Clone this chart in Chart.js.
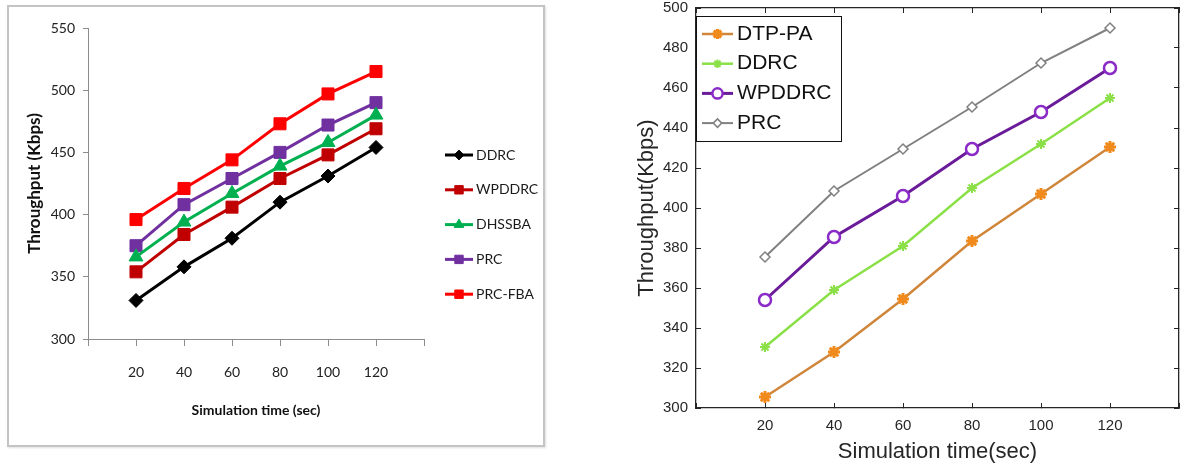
<!DOCTYPE html>
<html><head><meta charset="utf-8">
<script src="https://cdn.jsdelivr.net/npm/chart.js@4.4.1/dist/chart.umd.min.js"></script>
<style>
html,body{margin:0;padding:0;background:#fff;width:1193px;height:468px;overflow:hidden;position:relative}
#frameL{position:absolute;left:7px;top:5px;width:534px;height:438px;border:2px solid #c4c4c4;box-shadow:1px 1px 2px #e0e0e0}
#cL{position:absolute;left:0;top:0}
#cR{position:absolute;left:600px;top:0}
</style></head><body>
<div id="frameL"></div>
<canvas id="cL" width="560" height="468"></canvas>
<canvas id="cR" width="593" height="468"></canvas>
<script>
// ---------- data ----------
const timeSec = [20, 40, 60, 80, 100, 120];
const xTickValues = [0, 20, 40, 60, 80, 100, 120, 140];

// left chart
const leftNames = ['DDRC', 'WPDDRC', 'DHSSBA', 'PRC', 'PRC-FBA'];
const leftDDRC    = [331, 358, 381, 410, 431, 454];
const leftWPDDRC  = [354, 384, 406, 429, 448, 469];
const leftDHSSBA  = [366, 394, 417, 439, 458, 480];
const leftPRC     = [375, 408, 429, 450, 472, 490];
const leftPRCFBA  = [396, 421, 444, 473, 497, 515];
const leftYTicks  = [300, 350, 400, 450, 500, 550];

// right chart
const rightNames   = ['DTP-PA', 'DDRC', 'WPDDRC', 'PRC'];
const rightDTPPA   = [305.5, 328, 354.5, 383.5, 407, 430.5];
const rightDDRC    = [330.5, 359, 381, 410, 432, 455];
const rightWPDDRC  = [354, 385.5, 406, 429.5, 448, 470];
const rightPRC     = [375.5, 408.5, 429.5, 450.5, 472.5, 490];
const rightYTicks  = [300, 320, 340, 360, 380, 400, 420, 440, 460, 480, 500];

// ---------- helpers ----------
const pts = arr => timeSec.map((x, i) => ({x: x, y: arr[i]}));
const setTicks = vals => s => { s.ticks = vals.map(v => ({value: v})); };

const lineLegend = {
  id: 'lineLegend',
  afterDraw(chart, args, o) {
    const ctx = chart.ctx;
    const off = o.yOff || 0;
    ctx.save();
    if (o.box) {
      ctx.fillStyle = '#fff';
      ctx.fillRect(o.box[0], o.box[1] + off, o.box[2], o.box[3]);
      ctx.strokeStyle = '#111'; ctx.lineWidth = 1;
      ctx.strokeRect(o.box[0] + 0.5, o.box[1] + off + 0.5, o.box[2], o.box[3]);
    }
    chart.data.datasets.forEach((ds, i) => {
      const y = o.y0 + i * o.dy + off;
      ctx.strokeStyle = ds.borderColor; ctx.lineWidth = ds.borderWidth;
      ctx.beginPath(); ctx.moveTo(o.x, y); ctx.lineTo(o.x + o.len, y); ctx.stroke();
      ctx.fillStyle = ds.pointBackgroundColor; ctx.strokeStyle = ds.pointBorderColor;
      ctx.lineWidth = ds.pointBorderWidth;
      Chart.helpers.drawPoint(ctx, {pointStyle: ds.pointStyle, radius: ds.pointRadius * o.scale,
        rotation: 0, borderWidth: ds.pointBorderWidth}, o.x + o.len / 2, y);
      ctx.fillStyle = o.color; ctx.font = o.font;
      ctx.textAlign = 'left'; ctx.textBaseline = 'middle';
      ctx.fillText(ds.label, o.x + o.len + o.gap, y);
    });
    ctx.restore();
  }
};

// ---------- left chart ----------
const cal = "Lato, 'Open Sans', sans-serif";
const leftColors = ['#000000', '#C00000', '#00B050', '#7030A0', '#FF0000'];
const leftStyles = ['rectRot', 'rect', 'triangle', 'rect', 'rect'];
const leftRadius = [7, 8.5, 8, 8.5, 8.5];
const leftData = [leftDDRC, leftWPDDRC, leftDHSSBA, leftPRC, leftPRCFBA];

new Chart(document.getElementById('cL'), {
  type: 'line',
  data: {
    datasets: leftNames.map((n, i) => ({
      label: n, data: pts(leftData[i]),
      borderColor: leftColors[i], backgroundColor: leftColors[i],
      borderWidth: 3, pointStyle: leftStyles[i], pointRadius: leftRadius[i],
      pointBackgroundColor: leftColors[i], pointBorderColor: leftColors[i], pointBorderWidth: 1,
      tension: 0, fill: false
    }))
  },
  options: {
    responsive: false, maintainAspectRatio: false, animation: false, devicePixelRatio: 1,
    layout: {padding: {left: 20, right: 136, top: 28, bottom: 20}},
    plugins: {
      legend: {display: false}, tooltip: {enabled: false},
      lineLegend: {x: 445, len: 28, gap: 3, y0: 155, dy: 34.8, scale: 0.7,
        font: "14px " + cal, color: '#1a1a1a'}
    },
    scales: {
      x: {
        type: 'linear', min: 0, max: 140, afterBuildTicks: setTicks(xTickValues),
        ticks: {callback: v => timeSec.includes(v) ? String(v) : '', padding: 18,
          font: {family: cal, size: 14}, color: '#222', maxRotation: 0, autoSkip: false},
        grid: {drawOnChartArea: false, drawTicks: true, tickLength: 7, color: '#8c8c8c'},
        border: {color: '#8c8c8c', width: 1},
        title: {display: true, text: 'Simulation time (sec)', color: '#111',
          font: {family: cal, size: 14, weight: 'bold'}, padding: {top: 0, bottom: 29}},
        afterFit: s => { s.height = 109; }
      },
      y: {
        min: 300, max: 550, afterBuildTicks: setTicks(leftYTicks),
        ticks: {padding: 8, font: {family: cal, size: 14}, color: '#222'},
        grid: {drawOnChartArea: false, drawTicks: true, tickLength: 5, color: '#8c8c8c'},
        border: {color: '#8c8c8c', width: 1},
        title: {display: true, text: 'Throughput (Kbps)', color: '#111',
          font: {family: cal, size: 17, weight: 'bold'}, padding: {top: 4, bottom: 0}},
        afterFit: s => { s.width = 68; }
      }
    }
  },
  plugins: [lineLegend]
});

// ---------- right chart ----------
const sans = "'Liberation Sans', Arial, sans-serif";
const axisCol = '#262626';
const rightData = [rightDTPPA, rightDDRC, rightWPDDRC, rightPRC];
const rightLine = ['#D0863A', '#8AE046', '#6A1B9A', '#808080'];
const rightPtBorder = ['#F08A1C', '#8AE046', '#8A2BC8', '#808080'];
const rightPtFill = ['#F08A1C', '#8AE046', '#ffffff', '#ffffff'];
const rightStyles = ['star', 'star', 'circle', 'rectRot'];
const rightRadius = [6, 5, 6, 5];
const rightPtBW = [3, 2, 2.5, 1.5];
const rightBW = [2.5, 2.5, 3, 2];
const rightTop = 8;   // wanted top of plot area in page pixels

function makeRight(shift) {
  const cv = document.getElementById('cR');
  cv.width = 593; cv.height = 468 + shift;
  cv.style.top = (-shift) + 'px';
  return new Chart(cv, {
    type: 'line',
    data: {
      datasets: rightNames.map((n, i) => ({
        label: n, data: pts(rightData[i]),
        borderColor: rightLine[i], backgroundColor: rightPtFill[i],
        borderWidth: rightBW[i], pointStyle: rightStyles[i], pointRadius: rightRadius[i],
        pointBackgroundColor: rightPtFill[i], pointBorderColor: rightPtBorder[i],
        pointBorderWidth: rightPtBW[i], tension: 0, fill: false
      }))
    },
    options: {
      responsive: false, maintainAspectRatio: false, animation: false, devicePixelRatio: 1,
      layout: {padding: {left: 20, right: 1, top: 0, bottom: 2}},
      plugins: {
        legend: {display: false}, tooltip: {enabled: false},
        lineLegend: {x: 102, len: 31, gap: 4, y0: 34, dy: 29.7, scale: 0.85, yOff: shift,
          box: [96, 16, 145, 125], font: "21px " + sans, color: '#111'}
      },
      scales: {
        x: {
          type: 'linear', min: 0, max: 140, afterBuildTicks: setTicks(xTickValues),
          ticks: {callback: v => timeSec.includes(v) ? String(v) : '', padding: 14,
            font: {family: sans, size: 15}, color: axisCol, maxRotation: 0, autoSkip: false},
          grid: {drawOnChartArea: false, drawTicks: true, tickLength: -5, color: axisCol},
          border: {color: axisCol, width: 1.3},
          title: {display: true, text: 'Simulation time(sec)', color: axisCol,
            font: {family: sans, size: 22}, padding: {top: 0, bottom: 1}},
          afterFit: s => { s.height = 58; }
        },
        x2: {
          type: 'linear', position: 'top', min: 0, max: 140, afterBuildTicks: setTicks(xTickValues),
          ticks: {display: false},
          grid: {drawOnChartArea: false, drawTicks: true, tickLength: -5, color: axisCol},
          border: {color: axisCol, width: 1.3},
          afterFit: s => { s.height = 0; }
        },
        y: {
          min: 300, max: 500, afterBuildTicks: setTicks(rightYTicks),
          ticks: {padding: 13, font: {family: sans, size: 15}, color: axisCol},
          grid: {drawOnChartArea: false, drawTicks: true, tickLength: -5, color: axisCol},
          border: {color: axisCol, width: 1.3},
          title: {display: true, text: 'Throughput(Kbps)', color: axisCol,
            font: {family: sans, size: 22}, padding: {top: 14, bottom: 0}},
          afterFit: s => { s.width = 76; }
        },
        y2: {
          position: 'right', min: 300, max: 500, afterBuildTicks: setTicks(rightYTicks),
          ticks: {display: false},
          grid: {drawOnChartArea: false, drawTicks: true, tickLength: -5, color: axisCol},
          border: {color: axisCol, width: 1.3},
          afterFit: s => { s.width = 0; }
        }
      }
    },
    plugins: [lineLegend]
  });
}

let chartR = makeRight(0);
const shiftR = Math.round(chartR.chartArea.top - rightTop);
if (shiftR !== 0) {
  chartR.destroy();
  chartR = makeRight(shiftR);
}
</script>
</body></html>
